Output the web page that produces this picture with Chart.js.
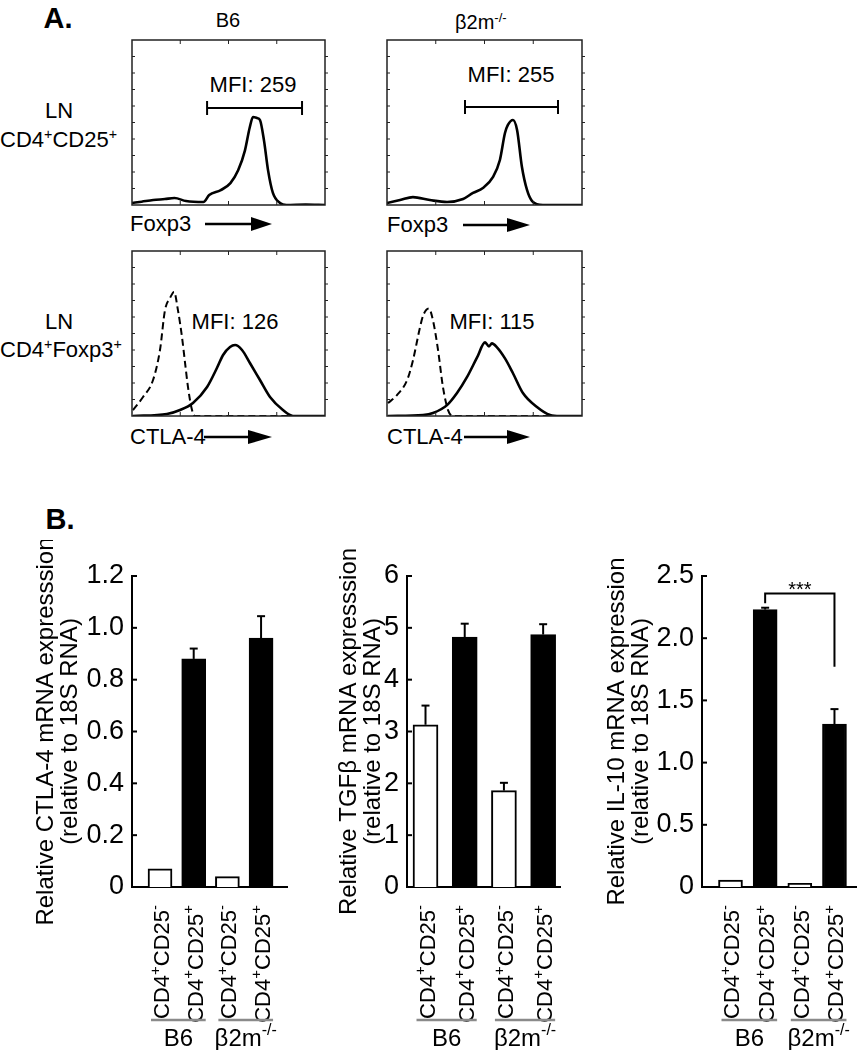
<!DOCTYPE html>
<html lang="en">
<head>
  <meta charset="UTF-8">
  <title>Foxp3 / CTLA-4 in B6 and β2m-/- Treg</title>
  <script src="https://cdn.jsdelivr.net/npm/chart.js"></script>
  <style>
    body { margin: 0; background: #fff; }
    #fig { position: relative; width: 857px; height: 1050px; overflow: hidden;
           font-family: 'Liberation Sans', Arial, sans-serif; color: #000; }
    #fig canvas { position: absolute; }
    #fig svg { position: absolute; left: 0; top: 0; }
    .t { position: absolute; white-space: nowrap; line-height: 1; font-size: 22px;
         transform: translate(-50%, -50%); }
    .t.l { transform: translate(0, -50%); }
    .t sup { font-size: 0.65em; vertical-align: 0.55em; line-height: 0; }
    .big { font-weight: bold; font-size: 29px; }
  </style>
</head>
<body>
<div id="fig">
  <!-- panel letters and headers -->
  <div class="t big" style="left:58px;top:18px">A.</div>
  <div class="t big" style="left:60px;top:519px">B.</div>
  <div class="t" style="left:228px;top:20px;font-size:20px">B6</div>
  <div class="t l" style="left:455px;top:22px;font-size:20px">β2m<sup>-/-</sup></div>

  <div class="t" style="left:59px;top:111px">LN</div>
  <div class="t l" style="left:0px;top:140px">CD4<sup>+</sup>CD25<sup>+</sup></div>
  <div class="t" style="left:59px;top:322px">LN</div>
  <div class="t l" style="left:0px;top:350px">CD4<sup>+</sup>Foxp3<sup>+</sup></div>

  <div class="t" style="left:253px;top:85px">MFI: 259</div>
  <div class="t" style="left:511px;top:75px">MFI: 255</div>
  <div class="t" style="left:235px;top:322px">MFI: 126</div>
  <div class="t" style="left:492px;top:322px">MFI: 115</div>

  <div class="t l" style="left:130px;top:224px">Foxp3</div>
  <div class="t l" style="left:387px;top:225px">Foxp3</div>
  <div class="t l" style="left:130px;top:437px">CTLA-4</div>
  <div class="t l" style="left:387px;top:437px">CTLA-4</div>

  <svg width="857" height="1050">
    <g stroke="#000" stroke-width="2.5">
      <line x1="205" y1="224" x2="256" y2="224"/>
      <line x1="463" y1="225" x2="510" y2="225"/>
      <line x1="204" y1="437" x2="251" y2="437"/>
      <line x1="464" y1="437" x2="510" y2="437"/>
    </g>
    <g fill="#000">
      <polygon points="251,217 272,224 251,231"/>
      <polygon points="507,218 530,225 507,232"/>
      <polygon points="248,430 272,437 248,444"/>
      <polygon points="507,430 530,437 507,444"/>
    </g>
  </svg>
</div>

<script>
  const FONT = "'Liberation Sans', Arial, sans-serif";
  Chart.defaults.font.family = FONT;
  Chart.defaults.color = '#000';

  // ---- A: histograms (x = % of channel range, y = % of box height) ----
  const foxB6X = [0, 5, 11, 17, 22, 28, 37, 40, 46, 51, 55, 58.5, 61, 62.7, 64.8, 66.3, 68.4, 70.5, 73, 76.7, 80, 90, 100];
  const foxB6Y = [1.2, 2, 3, 3.6, 4.2, 2.4, 1.8, 6, 9, 13.3, 21, 33, 47, 53.3, 52.7, 51.5, 39, 21, 7.3, 1.2, 0, 0.3, 0];

  const foxKoX = [0, 6.7, 13.3, 22, 30.8, 39, 44.1, 49.2, 54.4, 57.9, 60.5, 62, 64.6, 66.7, 69.2, 71.8, 74.4, 80, 90, 100];
  const foxKoY = [1.2, 3, 4.8, 3, 1.8, 3.6, 7.3, 10.3, 17, 27.3, 43.6, 48.5, 51.5, 45.5, 23, 9.1, 2.4, 0, 0, 0];

  const ctlaB6IsoX = [0.5, 5.7, 10.9, 14.5, 17.1, 19.7, 21.8, 23.8, 25.9, 27.5, 29, 31.1, 32.6, 50, 75, 100];
  const ctlaB6IsoY = [3.6, 11.5, 21.8, 40, 64.2, 71.5, 75.2, 64.2, 47.9, 32.1, 17.6, 3.6, 0, 0, 0, 0];
  const ctlaB6X = [0.5, 18.1, 24.9, 31.6, 38.9, 44, 47.2, 50.8, 53.4, 57, 61.1, 66.3, 71.5, 78.2, 83.4, 100];
  const ctlaB6Y = [0, 1.2, 3.6, 7.9, 17.6, 29.1, 37, 41.8, 43, 40, 32.1, 21.8, 11.5, 3.6, 0, 0];

  const ctlaKoIsoX = [0.5, 5.1, 10.3, 13.3, 16.9, 18.5, 21.5, 23.6, 26.2, 28.7, 31.3, 33.8, 60, 100];
  const ctlaKoIsoY = [7.8, 12.7, 21.7, 33.7, 53.6, 60.8, 65.1, 57.8, 39.8, 17.5, 3.6, 0, 0, 0];
  const ctlaKoX = [0.5, 18.5, 23.6, 30.8, 35.9, 41, 46.2, 50.3, 52.3, 53.8, 56.4, 60.5, 64.6, 69.7, 76.9, 83.6, 88.7, 100];
  const ctlaKoY = [0, 0.6, 1.8, 6.6, 13.9, 23.5, 35.5, 44.6, 42.2, 44, 41.6, 34.9, 25.9, 13.9, 5.4, 0.6, 0, 0];

  // MFI gates (x from, x to, height)
  const gateB6 = [38.9, 88.1, 58.8];
  const gateKo = [40, 87.7, 59.4];

  // ---- B: qPCR bars ----
  const cellTypes = ['CD4+CD25-', 'CD4+CD25+', 'CD4+CD25-', 'CD4+CD25+'];
  const strains = ['B6', 'β2m-/-'];

  const ctla4Mean = [0.07, 0.88, 0.04, 0.96];
  const ctla4Err = [0, 0.04, 0, 0.085];
  const ctla4Ticks = [0, 0.2, 0.4, 0.6, 0.8, 1.0, 1.2];

  const tgfbMean = [3.13, 4.82, 1.86, 4.87];
  const tgfbErr = [0.37, 0.26, 0.15, 0.2];
  const tgfbTicks = [0, 1, 2, 3, 4, 5, 6];

  const il10Mean = [0.055, 2.23, 0.03, 1.31];
  const il10Err = [0, 0.015, 0, 0.12];
  const il10Ticks = [0, 0.5, 1.0, 1.5, 2.0, 2.5];

  const fig = document.getElementById('fig');

  function addCanvas(left, top, w, h) {
    const c = document.createElement('canvas');
    c.width = w; c.height = h;
    c.style.left = left + 'px'; c.style.top = top + 'px';
    c.style.width = w + 'px'; c.style.height = h + 'px';
    fig.insertBefore(c, fig.querySelector('svg'));
    return c;
  }

  function line(ctx, x1, y1, x2, y2) {
    ctx.beginPath(); ctx.moveTo(x1, y1); ctx.lineTo(x2, y2); ctx.stroke();
  }

  // '+', '-' and '/' are written as superscripts
  function drawRich(ctx, s, x, y, size, align) {
    const parts = [];
    for (const ch of s) {
      const sup = '+-/'.includes(ch);
      const last = parts[parts.length - 1];
      if (last && last.sup === sup) last.t += ch; else parts.push({ t: ch, sup });
    }
    const supSize = Math.round(size * 0.66);
    let total = 0;
    parts.forEach(p => {
      ctx.font = (p.sup ? supSize : size) + 'px ' + FONT;
      p.w = ctx.measureText(p.t).width;
      total += p.w;
    });
    let cx = align === 'right' ? x - total : align === 'center' ? x - total / 2 : x;
    ctx.textAlign = 'left';
    ctx.textBaseline = 'alphabetic';
    parts.forEach(p => {
      ctx.font = (p.sup ? supSize : size) + 'px ' + FONT;
      ctx.fillText(p.t, cx, p.sup ? y - size * 0.42 : y);
      cx += p.w;
    });
  }

  // frame with small ticks + optional MFI gate
  function histoDecor(gate) {
    return {
      id: 'histoDecor',
      afterDraw(chart) {
        const { ctx, chartArea: a, scales: { x, y } } = chart;
        ctx.save();
        ctx.strokeStyle = '#222';
        ctx.lineWidth = 1.5;
        ctx.strokeRect(a.left, a.top, a.right - a.left, a.bottom - a.top);
        ctx.lineWidth = 1;
        [25, 50, 75].forEach(v => {
          const px = x.getPixelForValue(v);
          line(ctx, px, a.top, px, a.top + 4);
          line(ctx, px, a.bottom, px, a.bottom - 4);
        });
        for (let v = 10; v < 100; v += 10) {
          const py = y.getPixelForValue(v);
          line(ctx, a.right, py, a.right + 3, py);
          line(ctx, a.left, py, a.left + 3, py);
        }
        if (gate) {
          ctx.strokeStyle = '#000';
          ctx.lineWidth = 2;
          const x1 = x.getPixelForValue(gate[0]), x2 = x.getPixelForValue(gate[1]);
          const gy = y.getPixelForValue(gate[2]);
          line(ctx, x1, gy, x2, gy);
          line(ctx, x1, gy - 7, x1, gy + 7);
          line(ctx, x2, gy - 7, x2, gy + 7);
        }
        ctx.restore();
      }
    };
  }

  function histo(box, series, gate) {
    const pad = 6;
    const cv = addCanvas(box.left - pad, box.top - pad, box.w + 2 * pad, box.h + 2 * pad);
    new Chart(cv, {
      type: 'line',
      data: {
        datasets: series.map(s => ({
          data: s.x.map((v, i) => ({ x: v, y: s.y[i] })),
          borderColor: '#000',
          borderWidth: s.dash ? 2 : 2.6,
          borderDash: s.dash ? [7, 4] : [],
          pointRadius: 0,
          cubicInterpolationMode: 'monotone',
          fill: false
        }))
      },
      options: {
        responsive: false,
        animation: false,
        layout: { padding: pad },
        plugins: { legend: { display: false }, tooltip: { enabled: false } },
        scales: {
          x: { type: 'linear', min: 0, max: 100, display: false },
          y: { min: 0, max: 100, display: false }
        }
      },
      plugins: [histoDecor(gate)]
    });
  }

  histo({ left: 132, top: 40, w: 193, h: 165 }, [{ x: foxB6X, y: foxB6Y }], gateB6);
  histo({ left: 387, top: 40, w: 195, h: 165 }, [{ x: foxKoX, y: foxKoY }], gateKo);
  histo({ left: 132, top: 251, w: 193, h: 165 },
        [{ x: ctlaB6IsoX, y: ctlaB6IsoY, dash: true }, { x: ctlaB6X, y: ctlaB6Y }]);
  histo({ left: 387, top: 251, w: 195, h: 165 },
        [{ x: ctlaKoIsoX, y: ctlaKoIsoY, dash: true }, { x: ctlaKoX, y: ctlaKoY }]);

  // axis ticks inward, error bars, titles, rotated labels, strain groups
  function barDecor(cfg) {
    return {
      id: 'barDecor',
      afterDraw(chart) {
        const { ctx, chartArea: a, scales: { y } } = chart;
        const bars = chart.getDatasetMeta(0).data;
        ctx.save();
        ctx.strokeStyle = '#000';
        ctx.fillStyle = '#000';
        ctx.lineWidth = 2;
        y.ticks.forEach(t => {
          const py = y.getPixelForValue(t.value);
          line(ctx, a.left, py, a.left + 5, py);
        });
        bars.forEach((b, i) => {
          const e = cfg.errors[i];
          if (!e) return;
          const top = y.getPixelForValue(cfg.values[i] + e);
          line(ctx, b.x, b.y, b.x, top);
          line(ctx, b.x - 4, top, b.x + 4, top);
        });
        // y title (two lines)
        const cy = (a.top + a.bottom) / 2;
        ctx.save();
        ctx.translate(a.left - cfg.titleOff, cy);
        ctx.rotate(-Math.PI / 2);
        ctx.font = '24px ' + FONT;
        ctx.textAlign = 'center';
        ctx.textBaseline = 'middle';
        ctx.fillText(cfg.title[0], 0, 0);
        ctx.fillText(cfg.title[1], 0, 24);
        ctx.restore();
        // rotated cell type labels
        bars.forEach((b, i) => {
          ctx.save();
          ctx.translate(b.x, a.bottom + 18);
          ctx.rotate(-Math.PI / 2);
          drawRich(ctx, cellTypes[i], 0, 9, 22, 'right');
          ctx.restore();
        });
        // strain groups
        strains.forEach((g, k) => {
          const x1 = bars[2 * k].x - 9, x2 = bars[2 * k + 1].x + 12;
          ctx.strokeStyle = '#8a8a8a';
          ctx.lineWidth = 2.5;
          line(ctx, x1, a.bottom + 133, x2, a.bottom + 133);
          ctx.fillStyle = '#000';
          drawRich(ctx, g, (x1 + x2) / 2, a.bottom + 150 + 8.5, 24, 'center');
        });
        // significance bracket
        if (cfg.bracket) {
          const [i1, i2, yl, ya, yb, label] = cfg.bracket;
          const xa = bars[i1].x, xb = bars[i2].x, py = y.getPixelForValue(yl);
          ctx.strokeStyle = '#000';
          ctx.lineWidth = 2;
          ctx.beginPath();
          ctx.moveTo(xa, y.getPixelForValue(ya));
          ctx.lineTo(xa, py);
          ctx.lineTo(xb, py);
          ctx.lineTo(xb, y.getPixelForValue(yb));
          ctx.stroke();
          ctx.font = '20px ' + FONT;
          ctx.textAlign = 'center';
          ctx.textBaseline = 'alphabetic';
          ctx.fillText(label, (xa + xb) / 2, py + 3);
        }
        ctx.restore();
      }
    };
  }

  function barChart(cfg) {
    const T = 540, H = 510, W = 60, axisY = 887, topY = 576;
    const cv = addCanvas(cfg.left, T, cfg.width, H);
    new Chart(cv, {
      type: 'bar',
      data: {
        datasets: [{
          data: cfg.values.map((v, i) => ({ x: i + 1, y: v })),
          backgroundColor: cfg.values.map((v, i) => (i % 2 ? '#000' : '#fff')),
          borderColor: '#000',
          borderWidth: 2,
          barThickness: cfg.barW
        }]
      },
      options: {
        responsive: false,
        animation: false,
        layout: {
          padding: {
            left: cfg.axisX - cfg.left - W,
            right: cfg.left + cfg.width - cfg.axisEnd,
            top: topY - T,
            bottom: T + H - axisY
          }
        },
        plugins: { legend: { display: false }, tooltip: { enabled: false } },
        scales: {
          x: {
            type: 'linear', min: cfg.xMin, max: cfg.xMax, offset: false,
            grid: { display: false, drawTicks: false },
            ticks: { display: false },
            border: { display: true, color: '#000', width: 2 },
            afterFit: s => { s.height = 0; }
          },
          y: {
            min: 0, max: cfg.ticks[cfg.ticks.length - 1],
            grid: { display: false, drawTicks: false },
            border: { display: true, color: '#000', width: 2 },
            ticks: {
              font: { size: 27 }, color: '#000', padding: 8,
              callback: v => (v === 0 ? '0' : v.toFixed(cfg.dec))
            },
            afterBuildTicks: s => { s.ticks = cfg.ticks.map(v => ({ value: v })); },
            afterFit: s => { s.width = W; }
          }
        }
      },
      plugins: [barDecor(cfg)]
    });
  }

  barChart({
    left: 0, width: 292, axisX: 132, axisEnd: 287, xMin: 0.168, xMax: 4.77, barW: 24,
    values: ctla4Mean, errors: ctla4Err, ticks: ctla4Ticks, dec: 1, titleOff: 86,
    title: ['Relative CTLA-4 mRNA expresssion', '(relative to 18S RNA)']
  });
  barChart({
    left: 290, width: 275, axisX: 407, axisEnd: 560, xMin: 0.528, xMax: 4.43, barW: 25,
    values: tgfbMean, errors: tgfbErr, ticks: tgfbTicks, dec: 0, titleOff: 58,
    title: ['Relative TGFβ mRNA expresssion', '(relative to 18S RNA)']
  });
  barChart({
    left: 570, width: 287, axisX: 702, axisEnd: 857, xMin: 0.178, xMax: 4.65, barW: 24,
    values: il10Mean, errors: il10Err, ticks: il10Ticks, dec: 1, titleOff: 85,
    title: ['Relative IL-10 mRNA expression', '(relative to 18S RNA)'],
    bracket: [1, 3, 2.36, 2.28, 1.77, '***']
  });
</script>
</body>
</html>
